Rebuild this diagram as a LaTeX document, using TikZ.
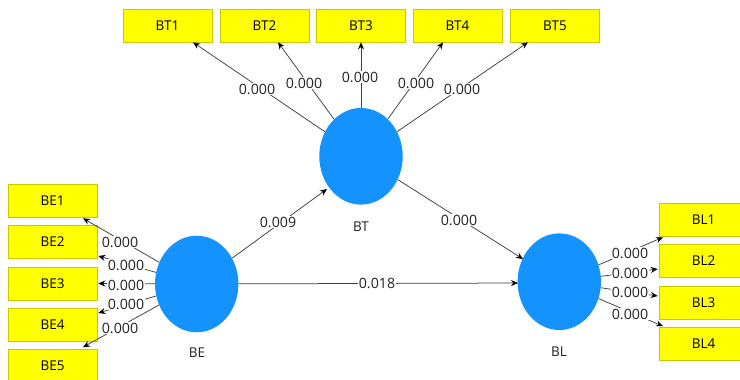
\documentclass[tikz,border=0pt]{standalone}
\usepackage{fontspec}
\setmainfont{Open Sans}
\usetikzlibrary{shapes.geometric,arrows.meta}
\definecolor{lvblue}{HTML}{1493FF}
\definecolor{indyel}{HTML}{FFFF00}
\definecolor{indedge}{HTML}{C9C900}
\definecolor{linegray}{HTML}{404040}
\definecolor{txtgray}{HTML}{222222}
\tikzset{
  latent/.style={ellipse, fill=lvblue, draw=none, minimum width=83.4pt, minimum height=96.6pt, inner sep=0pt},
  indicator/.style={rectangle, fill=indyel, draw=indedge, line width=0.6pt, minimum width=89pt, minimum height=33pt, inner sep=0pt, font=\fontsize{13.5}{15}\selectfont, text=black},
  conn/.style={draw=linegray, line width=0.75pt, -{Stealth[length=7pt,width=6pt,color=black]}},
  weight/.style={fill=white, inner sep=0.5pt, font=\fontsize{14.2}{15}\selectfont, text=txtgray},
  lvname/.style={font=\fontsize{13.5}{15}\selectfont, text=txtgray}
}
\begin{document}
\begin{tikzpicture}[x=1pt,y=-1pt]
\useasboundingbox (0,0) rectangle (740,380);
\fill[white] (0,0) rectangle (740,380);

% latent variables
\node[latent] (BT) at (361,156.3) {};
\node[latent] (BE) at (196.7,284) {};
\node[latent] (BL) at (559.3,281.7) {};
\node[lvname] (BTname) at (361,227) {BT};
\node[lvname] (BEname) at (197,353) {BE};
\node[lvname] (BLname) at (559,352) {BL};

% indicators of BT
\node[indicator] (BT1) at (167.5,25.5) {BT1};
\node[indicator] (BT2) at (264.5,25.5) {BT2};
\node[indicator] (BT3) at (361,25.5) {BT3};
\node[indicator] (BT4) at (457.5,25.5) {BT4};
\node[indicator] (BT5) at (555,25.5) {BT5};

% indicators of BE
\node[indicator] (BE1) at (52.5,200.5) {BE1};
\node[indicator] (BE2) at (52.5,242) {BE2};
\node[indicator] (BE3) at (52.5,283.5) {BE3};
\node[indicator] (BE4) at (52.5,325) {BE4};
\node[indicator] (BE5) at (52.5,366) {BE5};

% indicators of BL
\node[indicator] (BL1) at (703.5,219.5) {BL1};
\node[indicator] (BL2) at (703.5,261) {BL2};
\node[indicator] (BL3) at (703.5,303) {BL3};
\node[indicator] (BL4) at (703.5,344) {BL4};

% arrow end points on the indicator boxes
\coordinate (t1) at ([xshift=25.5pt]BT1.south);
\coordinate (t2) at ([xshift=13.5pt]BT2.south);
\coordinate (t3) at (BT3.south);
\coordinate (t4) at ([xshift=-14.5pt]BT4.south);
\coordinate (t5) at ([xshift=-27pt]BT5.south);
\coordinate (e1) at ([xshift=30.5pt,yshift=-1pt]BE1.south);
\coordinate (e2) at ([yshift=-14pt,xshift=1pt]BE2.east);
\coordinate (e3) at ([xshift=1pt]BE3.east);
\coordinate (e4) at ([yshift=12pt,xshift=1pt]BE4.east);
\coordinate (e5) at ([xshift=30.5pt,yshift=2pt]BE5.north);
\coordinate (l1) at ([xshift=-40.5pt,yshift=-1pt]BL1.south);
\coordinate (l2) at ([yshift=-8pt,xshift=-1pt]BL2.west);
\coordinate (l3) at ([yshift=7pt,xshift=-1pt]BL3.west);
\coordinate (l4) at ([xshift=-40.5pt,yshift=1pt]BL4.north);
\coordinate (bt-in) at (327,189);
\coordinate (bl-in1) at (523,259);
\coordinate (bl-in2) at (518,283);

% outer loadings
\foreach \c in {t1,t2,t3,t4,t5} \draw[conn] (BT) -- (\c);
\foreach \c in {e1,e2,e3,e4,e5} \draw[conn] (BE) -- (\c);
\foreach \c in {l1,l2,l3,l4} \draw[conn] (BL) -- (\c);

% structural paths
\draw[conn] (BE) -- (bt-in);
\draw[conn] (BT) -- (bl-in1);
\draw[conn] (BE) -- (bl-in2);

% path values
\node[weight] (wt1) at (257,89) {0.000};
\node[weight] (wt2) at (304,83) {0.000};
\node[weight] (wt3) at (360,77) {0.000};
\node[weight] (wt4) at (416,83) {0.000};
\node[weight] (wt5) at (462,89) {0.000};

\node[weight] (we1) at (120,242) {0.000};
\node[weight] (we2) at (126,265) {0.000};
\node[weight] (we3) at (126,285) {0.000};
\node[weight] (we4) at (126,304) {0.000};
\node[weight] (we5) at (120,328) {0.000};

\node[weight] (wl1) at (630,253) {0.000};
\node[weight] (wl2) at (630,273) {0.000};
\node[weight] (wl3) at (630,292) {0.000};
\node[weight] (wl4) at (630,314) {0.000};

\node[weight] (ws1) at (278,222) {0.009};
\node[weight] (ws2) at (459,220) {0.000};
\node[weight] (ws3) at (377,283) {0.018};
\end{tikzpicture}
\end{document}
